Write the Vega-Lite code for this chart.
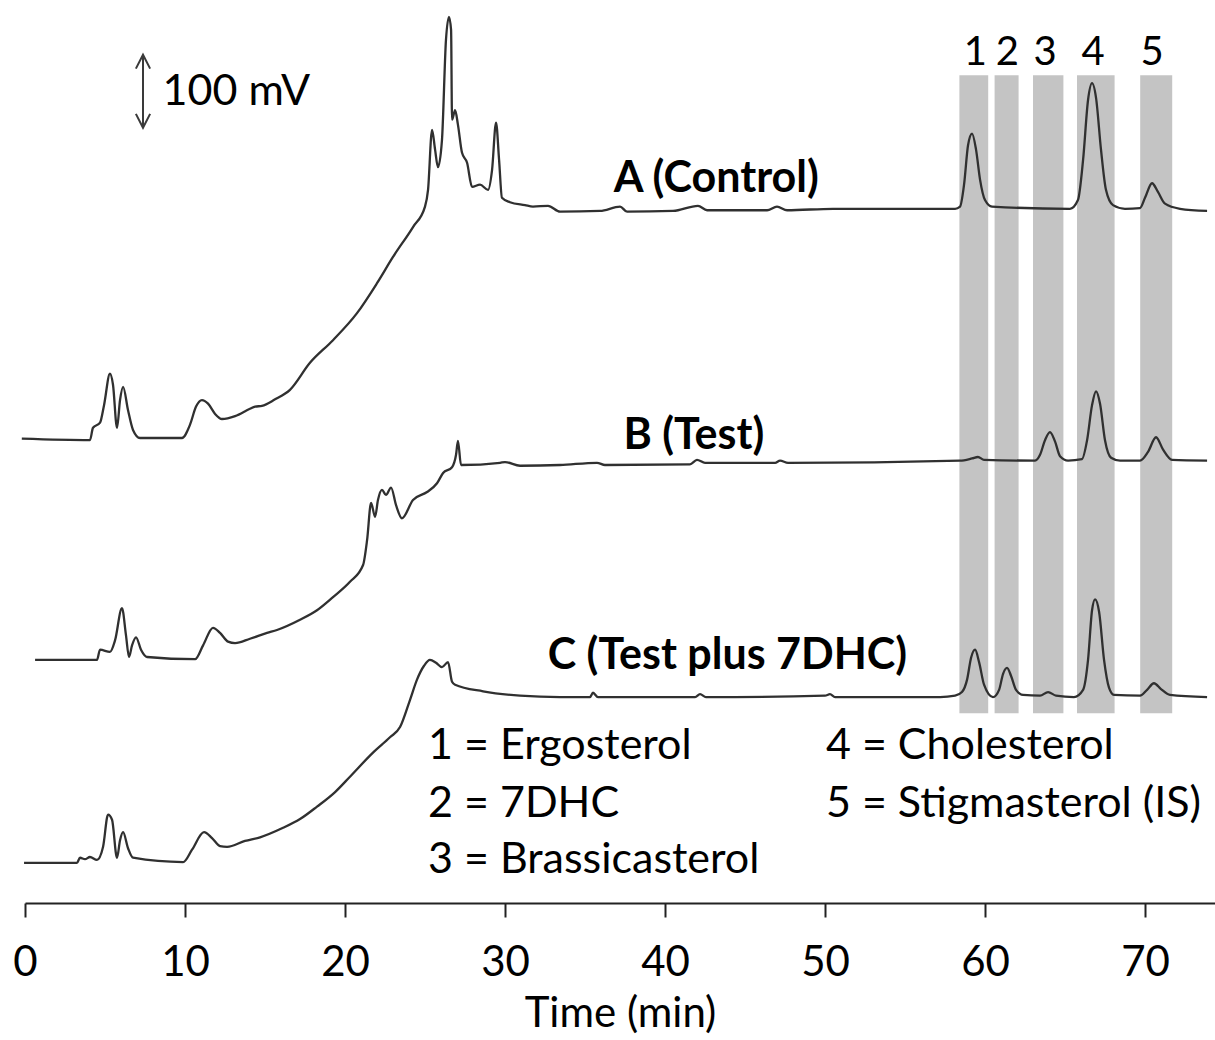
{
"$schema": "https://vega.github.io/schema/vega-lite/v6.json",
"width": 1190, "height": 903,
"autosize": {"type": "none"},
"padding": {"left": 25, "top": 0, "right": 0, "bottom": 137},
"background": "white",
"config": {"view": {"stroke": null}, "font": "Lato"},
"datasets": {
"bands": [
{"t": 58.4, "t2": 60.2, "v": 260, "v2": 1134},
{"t": 60.6, "t2": 62.1, "v": 260, "v2": 1134},
{"t": 63.0, "t2": 64.9, "v": 260, "v2": 1134},
{"t": 65.75, "t2": 68.1, "v": 260, "v2": 1134},
{"t": 69.7, "t2": 71.7, "v": 260, "v2": 1134}
],
"traces": [
{"trace":"A","t":-0.2,"v":636},{"trace":"A","t":4.06,"v":634},{"trace":"A","t":4.25,"v":651},{"trace":"A","t":4.69,"v":658},{"trace":"A","t":4.94,"v":682},{"trace":"A","t":5.31,"v":725},{"trace":"A","t":5.5,"v":710},{"trace":"A","t":5.75,"v":651},{"trace":"A","t":5.94,"v":689},{"trace":"A","t":6.13,"v":707},{"trace":"A","t":6.44,"v":675},{"trace":"A","t":6.75,"v":648},{"trace":"A","t":7.19,"v":637},{"trace":"A","t":9.81,"v":637},{"trace":"A","t":10.31,"v":655},{"trace":"A","t":10.69,"v":680},{"trace":"A","t":11.06,"v":689},{"trace":"A","t":11.44,"v":684},{"trace":"A","t":11.88,"v":670},{"trace":"A","t":12.31,"v":663},{"trace":"A","t":13.13,"v":667},{"trace":"A","t":14.06,"v":677},{"trace":"A","t":14.38,"v":680},{"trace":"A","t":14.81,"v":681},{"trace":"A","t":15.63,"v":690},{"trace":"A","t":16.56,"v":703},{"trace":"A","t":17.81,"v":740},{"trace":"A","t":19.25,"v":771},{"trace":"A","t":20.75,"v":808},{"trace":"A","t":22.0,"v":849},{"trace":"A","t":23.0,"v":885},{"trace":"A","t":24.25,"v":926},{"trace":"A","t":25.0,"v":954},{"trace":"A","t":25.19,"v":977},{"trace":"A","t":25.44,"v":1059},{"trace":"A","t":25.63,"v":1032},{"trace":"A","t":25.81,"v":1008},{"trace":"A","t":26.06,"v":1045},{"trace":"A","t":26.31,"v":1182},{"trace":"A","t":26.5,"v":1214},{"trace":"A","t":26.63,"v":1196},{"trace":"A","t":26.69,"v":1073},{"trace":"A","t":26.88,"v":1086},{"trace":"A","t":27.06,"v":1066},{"trace":"A","t":27.31,"v":1028},{"trace":"A","t":27.63,"v":1014},{"trace":"A","t":27.94,"v":981},{"trace":"A","t":28.44,"v":984},{"trace":"A","t":28.94,"v":977},{"trace":"A","t":29.19,"v":1004},{"trace":"A","t":29.44,"v":1069},{"trace":"A","t":29.63,"v":1018},{"trace":"A","t":29.81,"v":966},{"trace":"A","t":30.31,"v":960},{"trace":"A","t":31.25,"v":956},{"trace":"A","t":31.75,"v":954},{"trace":"A","t":32.69,"v":955},{"trace":"A","t":33.44,"v":947},{"trace":"A","t":35.94,"v":948},{"trace":"A","t":37.19,"v":954},{"trace":"A","t":37.63,"v":947},{"trace":"A","t":40.5,"v":948},{"trace":"A","t":42.06,"v":955},{"trace":"A","t":42.63,"v":949},{"trace":"A","t":46.38,"v":949},{"trace":"A","t":47.0,"v":954},{"trace":"A","t":47.63,"v":949},{"trace":"A","t":50.5,"v":951},{"trace":"A","t":58.13,"v":951},{"trace":"A","t":58.44,"v":954},{"trace":"A","t":58.69,"v":984},{"trace":"A","t":58.94,"v":1038},{"trace":"A","t":59.19,"v":1054},{"trace":"A","t":59.44,"v":1032},{"trace":"A","t":59.69,"v":991},{"trace":"A","t":60.0,"v":963},{"trace":"A","t":60.44,"v":954},{"trace":"A","t":65.31,"v":951},{"trace":"A","t":65.81,"v":963},{"trace":"A","t":66.13,"v":1018},{"trace":"A","t":66.44,"v":1100},{"trace":"A","t":66.69,"v":1123},{"trace":"A","t":66.94,"v":1103},{"trace":"A","t":67.25,"v":1032},{"trace":"A","t":67.56,"v":977},{"trace":"A","t":68.0,"v":956},{"trace":"A","t":68.75,"v":951},{"trace":"A","t":69.69,"v":952},{"trace":"A","t":70.0,"v":966},{"trace":"A","t":70.44,"v":986},{"trace":"A","t":70.81,"v":974},{"trace":"A","t":71.25,"v":958},{"trace":"A","t":72.19,"v":951},{"trace":"A","t":73.88,"v":948},
{"trace":"B","t":0.63,"v":333},{"trace":"B","t":4.5,"v":333},{"trace":"B","t":4.69,"v":347},{"trace":"B","t":5.31,"v":344},{"trace":"B","t":5.63,"v":360},{"trace":"B","t":6.06,"v":404},{"trace":"B","t":6.31,"v":367},{"trace":"B","t":6.5,"v":337},{"trace":"B","t":6.69,"v":353},{"trace":"B","t":6.94,"v":364},{"trace":"B","t":7.25,"v":347},{"trace":"B","t":7.63,"v":337},{"trace":"B","t":10.63,"v":334},{"trace":"B","t":11.13,"v":353},{"trace":"B","t":11.75,"v":377},{"trace":"B","t":12.19,"v":370},{"trace":"B","t":12.69,"v":358},{"trace":"B","t":13.13,"v":356},{"trace":"B","t":14.06,"v":362},{"trace":"B","t":15.13,"v":370},{"trace":"B","t":15.75,"v":374},{"trace":"B","t":17.19,"v":388},{"trace":"B","t":18.25,"v":401},{"trace":"B","t":19.25,"v":419},{"trace":"B","t":20.31,"v":440},{"trace":"B","t":21.13,"v":463},{"trace":"B","t":21.38,"v":497},{"trace":"B","t":21.63,"v":548},{"trace":"B","t":21.88,"v":529},{"trace":"B","t":22.06,"v":552},{"trace":"B","t":22.31,"v":566},{"trace":"B","t":22.56,"v":559},{"trace":"B","t":22.88,"v":569},{"trace":"B","t":23.19,"v":545},{"trace":"B","t":23.56,"v":527},{"trace":"B","t":24.25,"v":552},{"trace":"B","t":25.13,"v":563},{"trace":"B","t":25.75,"v":575},{"trace":"B","t":26.13,"v":589},{"trace":"B","t":26.69,"v":597},{"trace":"B","t":26.94,"v":614},{"trace":"B","t":27.06,"v":633},{"trace":"B","t":27.25,"v":600},{"trace":"B","t":29.69,"v":603},{"trace":"B","t":30.0,"v":604},{"trace":"B","t":30.94,"v":599},{"trace":"B","t":33.44,"v":600},{"trace":"B","t":35.75,"v":603},{"trace":"B","t":36.25,"v":600},{"trace":"B","t":41.56,"v":601},{"trace":"B","t":42.0,"v":607},{"trace":"B","t":42.5,"v":603},{"trace":"B","t":46.88,"v":603},{"trace":"B","t":47.19,"v":606},{"trace":"B","t":47.69,"v":603},{"trace":"B","t":58.44,"v":606},{"trace":"B","t":59.19,"v":609},{"trace":"B","t":59.56,"v":611},{"trace":"B","t":59.94,"v":607},{"trace":"B","t":63.13,"v":606},{"trace":"B","t":63.44,"v":614},{"trace":"B","t":63.75,"v":634},{"trace":"B","t":64.06,"v":645},{"trace":"B","t":64.38,"v":632},{"trace":"B","t":64.69,"v":612},{"trace":"B","t":65.19,"v":606},{"trace":"B","t":66.06,"v":608},{"trace":"B","t":66.38,"v":634},{"trace":"B","t":66.69,"v":682},{"trace":"B","t":66.94,"v":701},{"trace":"B","t":67.19,"v":684},{"trace":"B","t":67.5,"v":634},{"trace":"B","t":67.88,"v":610},{"trace":"B","t":68.44,"v":606},{"trace":"B","t":69.69,"v":606},{"trace":"B","t":70.19,"v":618},{"trace":"B","t":70.69,"v":638},{"trace":"B","t":71.13,"v":621},{"trace":"B","t":71.69,"v":607},{"trace":"B","t":73.88,"v":606},
{"trace":"C","t":-0.06,"v":55},{"trace":"C","t":3.25,"v":55},{"trace":"C","t":3.44,"v":62},{"trace":"C","t":3.75,"v":60},{"trace":"C","t":4.06,"v":63},{"trace":"C","t":4.5,"v":59},{"trace":"C","t":4.88,"v":77},{"trace":"C","t":5.19,"v":121},{"trace":"C","t":5.44,"v":114},{"trace":"C","t":5.75,"v":62},{"trace":"C","t":5.94,"v":86},{"trace":"C","t":6.13,"v":97},{"trace":"C","t":6.44,"v":75},{"trace":"C","t":6.75,"v":62},{"trace":"C","t":9.88,"v":56},{"trace":"C","t":10.44,"v":73},{"trace":"C","t":11.19,"v":97},{"trace":"C","t":11.69,"v":89},{"trace":"C","t":12.19,"v":78},{"trace":"C","t":12.63,"v":77},{"trace":"C","t":13.75,"v":85},{"trace":"C","t":14.69,"v":90},{"trace":"C","t":16.13,"v":103},{"trace":"C","t":17.19,"v":115},{"trace":"C","t":18.25,"v":132},{"trace":"C","t":19.38,"v":152},{"trace":"C","t":20.31,"v":173},{"trace":"C","t":21.75,"v":206},{"trace":"C","t":22.81,"v":227},{"trace":"C","t":23.44,"v":241},{"trace":"C","t":24.06,"v":278},{"trace":"C","t":24.5,"v":306},{"trace":"C","t":24.94,"v":325},{"trace":"C","t":25.31,"v":333},{"trace":"C","t":25.69,"v":329},{"trace":"C","t":26.06,"v":323},{"trace":"C","t":26.44,"v":330},{"trace":"C","t":26.69,"v":303},{"trace":"C","t":26.88,"v":299},{"trace":"C","t":28.63,"v":290},{"trace":"C","t":30.94,"v":284},{"trace":"C","t":33.44,"v":282},{"trace":"C","t":35.31,"v":282},{"trace":"C","t":35.5,"v":288},{"trace":"C","t":35.81,"v":282},{"trace":"C","t":41.88,"v":282},{"trace":"C","t":42.19,"v":286},{"trace":"C","t":42.56,"v":282},{"trace":"C","t":50.0,"v":284},{"trace":"C","t":50.31,"v":286},{"trace":"C","t":50.63,"v":282},{"trace":"C","t":57.19,"v":282},{"trace":"C","t":58.13,"v":284},{"trace":"C","t":58.56,"v":289},{"trace":"C","t":58.88,"v":306},{"trace":"C","t":59.13,"v":336},{"trace":"C","t":59.38,"v":347},{"trace":"C","t":59.63,"v":330},{"trace":"C","t":59.94,"v":299},{"trace":"C","t":60.5,"v":282},{"trace":"C","t":60.88,"v":292},{"trace":"C","t":61.13,"v":314},{"trace":"C","t":61.38,"v":322},{"trace":"C","t":61.63,"v":311},{"trace":"C","t":61.94,"v":292},{"trace":"C","t":62.38,"v":285},{"trace":"C","t":63.44,"v":284},{"trace":"C","t":63.94,"v":289},{"trace":"C","t":64.44,"v":284},{"trace":"C","t":65.56,"v":282},{"trace":"C","t":66.13,"v":292},{"trace":"C","t":66.44,"v":333},{"trace":"C","t":66.69,"v":401},{"trace":"C","t":66.88,"v":416},{"trace":"C","t":67.13,"v":399},{"trace":"C","t":67.44,"v":333},{"trace":"C","t":67.75,"v":295},{"trace":"C","t":68.06,"v":285},{"trace":"C","t":69.69,"v":284},{"trace":"C","t":70.13,"v":292},{"trace":"C","t":70.56,"v":301},{"trace":"C","t":71.0,"v":293},{"trace":"C","t":71.56,"v":285},{"trace":"C","t":73.88,"v":282}
],
"arrow": [
{"part":"shaft","t":7.375,"v":1162},{"part":"shaft","t":7.375,"v":1062},
{"part":"head_top","t":6.93,"v":1143},{"part":"head_top","t":7.375,"v":1162},{"part":"head_top","t":7.82,"v":1143},
{"part":"head_bottom","t":6.93,"v":1081},{"part":"head_bottom","t":7.375,"v":1062},{"part":"head_bottom","t":7.82,"v":1081}
],
"traceLabels": [
{"t":43.2,"v":974,"label":"A (Control)"},
{"t":41.8,"v":622,"label":"B (Test)"},
{"t":43.9,"v":321,"label":"C (Test plus 7DHC)"}
],
"bandLabels": [
{"t":59.4,"v":1148,"label":"1"},
{"t":61.4,"v":1148,"label":"2"},
{"t":63.75,"v":1148,"label":"3"},
{"t":66.75,"v":1148,"label":"4"},
{"t":70.44,"v":1148,"label":"5"}
],
"legend": [
{"t":25.19,"v":197,"label":"1 = Ergosterol"},
{"t":25.19,"v":118,"label":"2 = 7DHC"},
{"t":25.19,"v":41,"label":"3 = Brassicasterol"},
{"t":50.06,"v":197,"label":"4 = Cholesterol"},
{"t":50.06,"v":118,"label":"5 = Stigmasterol (IS)"},
{"t":8.6,"v":1093,"label":"100 mV"}
]
},
"encoding": {
"x": {"field": "t", "type": "quantitative",
  "scale": {"domain": [0, 74.375], "nice": false, "zero": false},
  "axis": {"values": [0,10,20,30,40,50,60,70], "title": "Time (min)", "grid": false, "labelFlush": false,
    "domainColor": "#222", "domainWidth": 2, "tickColor": "#222", "tickWidth": 2, "tickSize": 14,
    "labelFontSize": 42, "labelColor": "#000", "labelPadding": 25, "labelFont": "Lato",
    "titleFontSize": 42, "titleFontWeight": "normal", "titleColor": "#000", "titleFont": "Lato", "titlePadding": 10}},
"y": {"field": "v", "type": "quantitative",
  "scale": {"domain": [0, 1237], "nice": false, "zero": false}, "axis": null}
},
"layer": [
{"data": {"name": "bands"}, "mark": {"type": "rect", "color": "#c4c4c4"},
 "encoding": {"x2": {"field": "t2"}, "y2": {"field": "v2"}}},
{"data": {"name": "traces"}, "mark": {"type": "line", "color": "#303030", "strokeWidth": 2.3, "interpolate": "monotone"},
 "encoding": {"detail": {"field": "trace"}}},
{"data": {"name": "arrow"}, "mark": {"type": "line", "color": "#3a3a3a", "strokeWidth": 2},
 "encoding": {"detail": {"field": "part"}}},
{"data": {"name": "traceLabels"}, "mark": {"type": "text", "fontSize": 43, "fontWeight": "bold", "align": "center", "baseline": "alphabetic", "color": "#000"},
 "encoding": {"text": {"field": "label"}}},
{"data": {"name": "bandLabels"}, "mark": {"type": "text", "fontSize": 40, "align": "center", "baseline": "alphabetic", "color": "#000"},
 "encoding": {"text": {"field": "label"}}},
{"data": {"name": "legend"}, "mark": {"type": "text", "fontSize": 43, "align": "left", "baseline": "alphabetic", "color": "#000"},
 "encoding": {"text": {"field": "label"}}}
]
}
